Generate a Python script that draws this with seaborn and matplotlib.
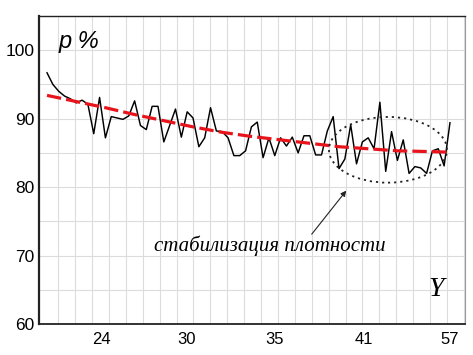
import numpy as np
import pandas as pd
import matplotlib
matplotlib.use('Agg')
import matplotlib.pyplot as plt
import seaborn as sns
from matplotlib.patches import Ellipse

# density values (p, %)
density = [96.7, 95.0, 94.0, 93.3, 92.9, 92.3, 92.7, 92.1, 87.8, 93.1,
           87.2, 90.3, 90.1, 89.9, 90.4, 92.6, 89.0, 88.4, 91.8, 91.8,
           86.6, 89.0, 91.4, 87.3, 91.0, 90.1, 85.9, 87.2, 91.6, 88.2,
           88.1, 87.2, 84.6, 84.6, 85.3, 88.8, 89.5, 84.3, 87.2, 84.6,
           87.2, 86.0, 87.3, 85.0, 87.5, 87.5, 84.7, 84.7, 88.2, 90.3,
           82.7, 84.1, 89.1, 83.4, 86.6, 87.2, 85.6, 92.4, 82.3, 88.1,
           83.9, 86.9, 82.0, 83.0, 82.8, 82.0, 85.3, 85.6, 83.1, 89.4]
# smoothed trend (red dashed)
trend_idx = [0, 5, 10, 15, 20, 25, 30, 35, 40, 45, 50, 55, 60, 65, 69]
trend_val = [93.4, 92.5, 91.6, 90.6, 89.7, 88.8, 88.0, 87.4, 86.9, 86.4,
             85.9, 85.6, 85.3, 85.2, 85.1]
tick_labels = ['24', '30', '35', '41', '57']

n = len(density)
df = pd.DataFrame({'idx': np.arange(n), 'p': density})
tr = pd.DataFrame({'idx': trend_idx, 'p': trend_val})

plt.rcParams['font.family'] = ['Liberation Sans', 'DejaVu Sans']
fig = plt.figure(figsize=(4.73, 3.55), dpi=100)
ax = fig.add_axes([0.0825, 0.0873, 0.9005, 0.8677])

step = 403 / (n - 1)  # pixels per point in the reference
sns.lineplot(x='idx', y='p', data=df, color='black', linewidth=1.05, ax=ax, zorder=3)
sns.lineplot(x='idx', y='p', data=tr, color='#e8141b', linewidth=2.3, ax=ax,
             dashes=False, zorder=4).lines[-1].set_dashes([4.5, 1.6])

ax.set_xlim(-8 / step, (465 - 47) / step)
ax.set_ylim(60, 105)

major_x = [(px - 47) / step for px in [101, 187, 275, 364, 450]]
ax.set_xticks(major_x)
ax.set_xticklabels(tick_labels, fontsize=12)
ax.set_xticks(np.arange((58.3 - 47) / step, (465 - 47) / step, 16.9 / step), minor=True)
ax.set_yticks([60, 70, 80, 90, 100])
ax.set_yticks([65, 75, 85, 95], minor=True)
ax.tick_params(axis='y', labelsize=12.5, length=0, pad=3)
ax.tick_params(axis='x', which='major', length=0, pad=6)
ax.tick_params(axis='both', which='minor', length=0)
ax.grid(which='minor', axis='x', color='#dcdcdc', linewidth=0.8)
ax.grid(which='both', axis='y', color='#dcdcdc', linewidth=0.8)
ax.set_axisbelow(True)
ax.set_xlabel('')
ax.set_ylabel('')

for s in ['left', 'bottom', 'top']:
    ax.spines[s].set_color('#222222')
ax.spines['left'].set_linewidth(1.6)
ax.spines['bottom'].set_linewidth(1.3)
ax.spines['top'].set_linewidth(1.0)
ax.spines['right'].set_color('#999999')
ax.spines['right'].set_linewidth(0.8)

ax.text((59 - 47) / step, 101.3, 'p %', fontsize=17, style='italic', ha='left', va='center')
ax.text((270 - 47) / step, 71.5, 'стабилизация плотности', fontsize=15,
        family='Liberation Serif', style='italic', ha='center', va='center')
ax.text((436 - 47) / step, 65.0, 'Y', fontsize=20, family='Liberation Serif',
        style='italic', ha='center', va='center')

ell = Ellipse(((388 - 47) / step, 85.45), 118 / step, 9.6, fill=False,
              linestyle=(0, (1.2, 2.2)), linewidth=1.3, edgecolor='#222222', zorder=5)
ax.add_patch(ell)
ax.annotate('', xy=((348 - 47) / step, 79.8), xytext=((310 - 47) / step, 72.8),
            arrowprops=dict(arrowstyle='-|>', color='#222222', lw=0.8,
                            mutation_scale=8))

plt.savefig('out.png', dpi=100)
